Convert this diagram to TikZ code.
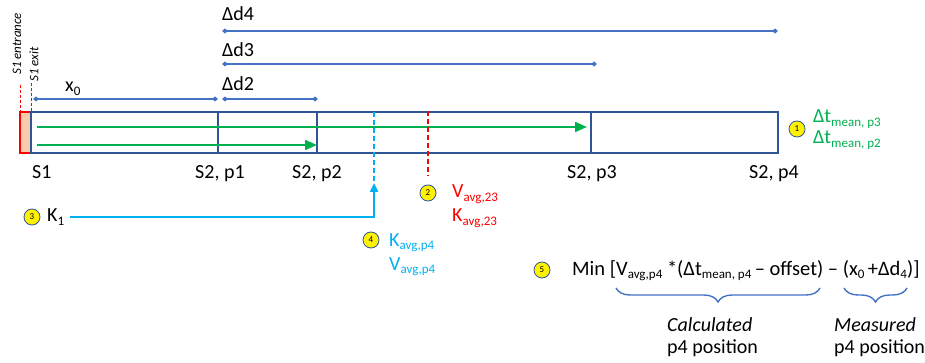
\documentclass[tikz,border=0pt]{standalone}
\usepackage{fontspec}
\setmainfont{Carlito}
\usetikzlibrary{arrows.meta,decorations.pathreplacing}
\definecolor{boxblue}{HTML}{2F5597}
\definecolor{dimblue}{HTML}{4472C4}
\definecolor{tgreen}{HTML}{00B050}
\definecolor{tcyan}{HTML}{00B0F0}
\definecolor{tred}{HTML}{FF0000}
\definecolor{sfill}{HTML}{F8CBAD}
\newcommand\lowsub[1]{\raisebox{-0.4ex}{\fontsize{13}{13}\selectfont #1}}
\begin{document}
\begin{tikzpicture}[x=1pt,y=-1pt,
  lbl/.style={font=\fontsize{20}{22}\selectfont, inner sep=0pt},
  rotlbl/.style={font=\fontsize{13}{13}\selectfont\itshape, inner sep=0pt, rotate=90, anchor=west},
  numcirc/.style={circle, draw=boxblue, fill=yellow, minimum size=16pt, inner sep=0pt, font=\fontsize{9}{9}\selectfont, line width=0.8pt},
  dimline/.style={draw=dimblue, line width=1.6pt, {Diamond[width=5pt,length=6pt]}-{Diamond[width=5pt,length=6pt]}},
  boxline/.style={draw=boxblue, line width=2.2pt},
  garrow/.style={draw=tgreen, line width=2pt, -{Triangle[length=12pt,width=10pt]}},
  sdash/.style={draw=tred, line width=0.9pt, dash pattern=on 3pt off 2pt},
  brc/.style={draw=dimblue, line width=1.4pt, decorate, decoration={brace, mirror, amplitude=14pt}}
]
\useasboundingbox (0,0) rectangle (925,363);

% coordinates of the tube
\coordinate (s1a) at (20,112);
\coordinate (s1b) at (31,153);
\coordinate (tl) at (31,112);
\coordinate (br) at (778,153);
\coordinate (p1t) at (218,112); \coordinate (p1b) at (218,153);
\coordinate (p2t) at (317,112); \coordinate (p2b) at (317,153);
\coordinate (p3t) at (591,112); \coordinate (p3b) at (591,153);

% S1 sensor
\draw[draw=tred, fill=sfill, line width=2pt] (s1a) rectangle (s1b);
% tube
\draw[boxline] (tl) rectangle (br);
\draw[boxline] (p1t) -- (p1b);
\draw[boxline] (p2t) -- (p2b);
\draw[boxline] (p3t) -- (p3b);

% entrance / exit markers
\coordinate (ent0) at (20,85); \coordinate (ent1) at (20,112);
\coordinate (ex0) at (31,83); \coordinate (ex1) at (31,112);
\draw[sdash] (ent0) -- (ent1);
\draw[sdash] (ex0) -- (ex1);
\node[rotlbl] (entl) at (17,75) {S1 entrance};
\node[rotlbl] (exl) at (34,82) {S1 exit};

% green arrows
\coordinate (g1a) at (37,127); \coordinate (g1b) at (587,127);
\coordinate (g2a) at (37,145); \coordinate (g2b) at (317,145);
\draw[garrow] (g1a) -- (g1b);
\draw[garrow] (g2a) -- (g2b);

% dimension lines
\coordinate (x0a) at (33,99); \coordinate (x0b) at (218,99);
\coordinate (d2a) at (222,99); \coordinate (d2b) at (318,99);
\coordinate (d3a) at (222,64); \coordinate (d3b) at (597,64);
\coordinate (d4a) at (222,31); \coordinate (d4b) at (778,31);
\draw[dimline] (x0a) -- (x0b);
\draw[dimline] (d2a) -- (d2b);
\draw[dimline] (d3a) -- (d3b);
\draw[dimline] (d4a) -- (d4b);
\node[lbl, anchor=base west] (x0l) at (65,92) {x\lowsub{0}};
\node[lbl, anchor=base west] (d2l) at (222,91) {Δd2};
\node[lbl, anchor=base west] (d3l) at (222,57) {Δd3};
\node[lbl, anchor=base west] (d4l) at (222,21) {Δd4};

% station labels
\node[lbl, anchor=base west] (s1l) at (32,179) {S1};
\node[lbl, anchor=base west] (p1l) at (195,179) {S2, p1};
\node[lbl, anchor=base west] (p2l) at (292,179) {S2, p2};
\node[lbl, anchor=base west] (p3l) at (567,179) {S2, p3};
\node[lbl, anchor=base west] (p4l) at (749,179) {S2, p4};

% 1
\node[numcirc] (c1) at (797,129) {1};
\node[lbl, anchor=base west, text=tgreen] (t1) at (813,123) {Δt\lowsub{mean, p3}};
\node[lbl, anchor=base west, text=tgreen] (t2) at (813,144) {Δt\lowsub{mean, p2}};

% 2
\coordinate (r0) at (428,111); \coordinate (r1) at (428,176);
\draw[draw=tred, line width=1.4pt, dash pattern=on 5pt off 3pt] (r0) -- (r1);
\node[numcirc] (c2) at (428,193) {2};
\node[lbl, anchor=base west, text=tred] (v23) at (452,198) {V\lowsub{avg,23}};
\node[lbl, anchor=base west, text=tred] (k23) at (452,222) {K\lowsub{avg,23}};

% 3
\node[numcirc] (c3) at (32,217) {3};
\node[lbl, anchor=base west] (k1) at (47,222) {K\lowsub{1}};
\coordinate (kst) at (70,217);
\coordinate (kc) at (374,217);
\coordinate (kend) at (374,183);
\coordinate (cy0) at (374,112); \coordinate (cy1) at (374,181);
\draw[draw=tcyan, line width=1.4pt, dash pattern=on 5pt off 3pt] (cy0) -- (cy1);
\draw[draw=tcyan, line width=2.5pt, -{Triangle[length=9pt,width=8pt]}] (kst) -- (kc) -- (kend);

% 4
\node[numcirc] (c4) at (371,240) {4};
\node[lbl, anchor=base west, text=tcyan] (k4) at (389,246) {K\lowsub{avg,p4}};
\node[lbl, anchor=base west, text=tcyan] (v4) at (389,270) {V\lowsub{avg,p4}};

% 5
\node[numcirc] (c5) at (542,270) {5};
\node[lbl, anchor=base west, font=\fontsize{20.5}{22}\selectfont] (f) at (572,275) {Min [V\lowsub{avg,p4}\ *(Δt\lowsub{mean, p4}\,– offset) – (x\lowsub{0}\,+Δd\lowsub{4})]};
\coordinate (b1a) at (616,288); \coordinate (b1b) at (820,288);
\coordinate (b2a) at (844,288); \coordinate (b2b) at (907,288);
\draw[brc] (b1a) -- (b1b);
\draw[brc] (b2a) -- (b2b);
\node[lbl, anchor=base west, font=\fontsize{20}{22}\selectfont\itshape] (calc) at (667,331) {Calculated};
\node[lbl, anchor=base west] (calcp) at (667,353) {p4 position};
\node[lbl, anchor=base west, font=\fontsize{20}{22}\selectfont\itshape] (meas) at (834,331) {Measured};
\node[lbl, anchor=base west] (measp) at (834,353) {p4 position};
\end{tikzpicture}
\end{document}
